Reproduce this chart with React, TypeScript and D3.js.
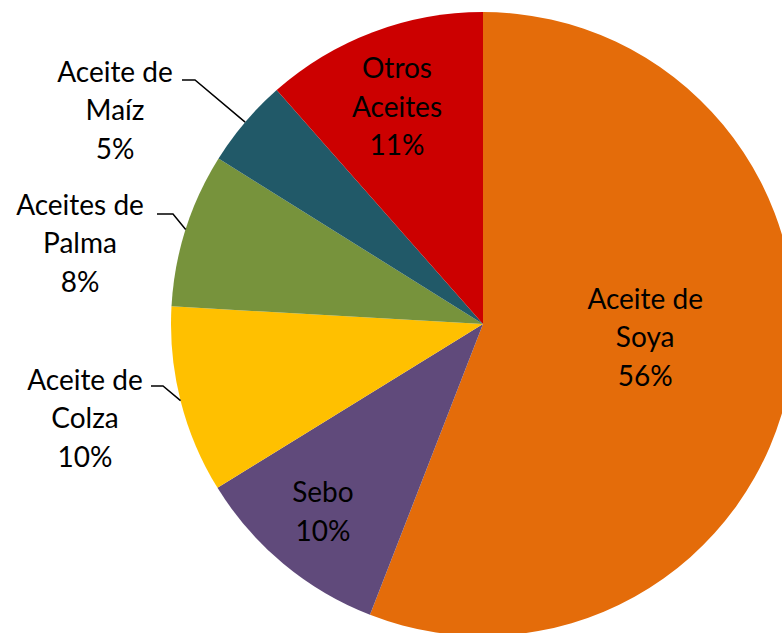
import React from "react";
import * as d3 from "d3";

const categories = ["Aceite de Soya", "Sebo", "Aceite de Colza", "Aceites de Palma", "Aceite de Maíz", "Otros Aceites"];
const values = [55.9, 10.3, 9.7, 8.0, 4.6, 11.5];
const percentLabels = ["56%", "10%", "10%", "8%", "5%", "11%"];
const labelLines = [
  ["Aceite de", "Soya"],
  ["Sebo"],
  ["Aceite de", "Colza"],
  ["Aceites de", "Palma"],
  ["Aceite de", "Maíz"],
  ["Otros", "Aceites"],
];
const colors = ["#E46C0A", "#604A7B", "#FFC000", "#77933C", "#215968", "#CC0000"];

const W = 782, H = 633;
const CX = 483, CY = 324, R = 312;
const FONT = 28;
const LINE_H = 38.5;

// layout: inside labels placed at centroid radius; outside labels with leader
const layout: Record<number, any> = {
  0: { inside: true, r: 165, dx: 0, dy: -17 },
  1: { inside: true, r: 244, dx: -4, dy: 0 },
  5: { inside: true, r: 232, dx: -4, dy: 0 },
  2: { inside: false, tx: 85, ty: 380, lineEnd: 151, elbow: 163, elbowY: 386 },
  3: { inside: false, tx: 80, ty: 205, lineEnd: 157, elbow: 173, elbowY: 214 },
  4: { inside: false, tx: 115, ty: 72, lineEnd: 182, elbow: 195, elbowY: 80 },
};

export default function App() {
  const pie = d3.pie<number>().sort(null).value((d) => d)(values);
  const arc = d3.arc<d3.PieArcDatum<number>>().innerRadius(0).outerRadius(R);

  return (
    <svg width={W} height={H} style={{ position: "absolute", left: 0, top: 0, background: "#fff" }}
      fontFamily="Lato, 'Open Sans', sans-serif" fontSize={FONT}>
      <g transform={`translate(${CX},${CY})`}>
        {pie.map((p, i) => (
          <path key={i} d={arc(p) || ""} fill={colors[i]} />
        ))}
      </g>
      {pie.map((p, i) => {
        const L = layout[i];
        const lines = [...labelLines[i], percentLabels[i]];
        const mid = (p.startAngle + p.endAngle) / 2;
        if (L.inside) {
          const x = CX + L.r * Math.sin(mid) + L.dx;
          const y = CY - L.r * Math.cos(mid) + L.dy;
          const y0 = y - ((lines.length - 1) * LINE_H) / 2;
          return (
            <text key={i} textAnchor="middle" fill="#000">
              {lines.map((t, j) => (
                <tspan key={j} x={x} y={y0 + j * LINE_H} dy="0.35em">{t}</tspan>
              ))}
            </text>
          );
        }
        const ex = CX + R * Math.sin(mid);
        const ey = CY - R * Math.cos(mid);
        return (
          <g key={i}>
            <polyline points={`${ex},${ey} ${L.elbow},${L.elbowY} ${L.lineEnd},${L.elbowY}`}
              fill="none" stroke="#000" strokeWidth={1.5} />
            <text textAnchor="middle" fill="#000">
              {lines.map((t, j) => (
                <tspan key={j} x={L.tx} y={L.ty + j * LINE_H} dy="0.35em">{t}</tspan>
              ))}
            </text>
          </g>
        );
      })}
    </svg>
  );
}
